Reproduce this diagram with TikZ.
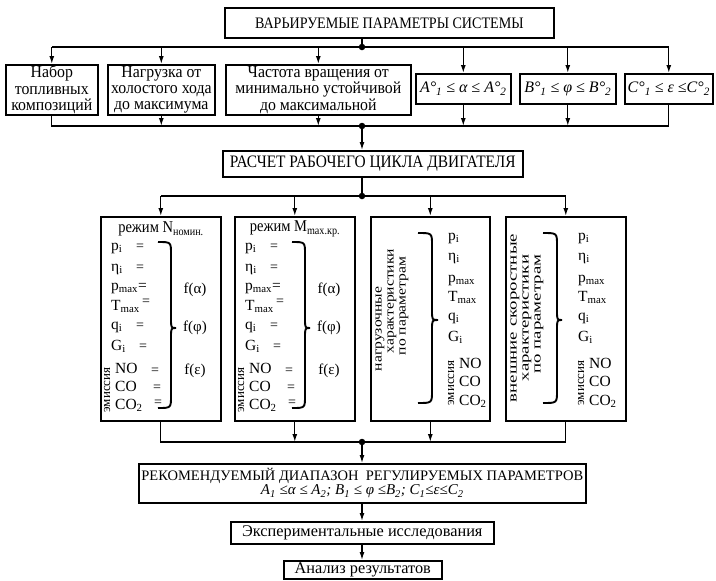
\documentclass[tikz,border=0pt]{standalone}
\usepackage{fontspec}
\setmainfont{Liberation Serif}
\newfontfamily\cnd{Liberation Serif}[FakeStretch=0.88]
\newfontfamily\cndb{Liberation Serif}[FakeStretch=0.93]
\newfontfamily\wdA{Liberation Serif}[FakeStretch=1.2]
\newfontfamily\wdB{Liberation Serif}[FakeStretch=1.45]
\usetikzlibrary{arrows.meta}

\newcommand\modecontent[3]{%
\begin{scope}[xshift=#2]
\node[inner sep=0pt,font=\cnd\fontsize{16.5}{17}\selectfont] (#1t) at (161,229) {#3};
\node[lbl] (#1a) at (111,247) {p\textsubscript{i}};
\node[eqs] (#1ae) at (140,247) {=};
\node[lbl] (#1b) at (111,268) {η\textsubscript{i}};
\node[eqs] (#1be) at (140,268) {=};
\node[lbl] (#1c) at (111,287) {p\textsubscript{max}=};
\node[lbl] (#1d) at (111,307) {T\textsubscript{max}};
\node[eqs] (#1de) at (146,302) {=};
\node[lbl] (#1e) at (111,326) {q\textsubscript{i}};
\node[eqs] (#1ee) at (140,326) {=};
\node[lbl] (#1f) at (111,347) {G\textsubscript{i}};
\node[eqs] (#1fe) at (143,347) {=};
\node[lbl] (#1g) at (115,370) {NO};
\node[eqs] (#1ge) at (155,371) {=};
\node[lbl] (#1h) at (115,388) {CO};
\node[eqs] (#1he) at (157,388) {=};
\node[lbl] (#1i) at (115,406) {CO\textsubscript{2}};
\node[eqs] (#1ie) at (158,403) {=};
\node[vtxt,font=\fontsize{13}{12}\selectfont] (#1em) at (107,390) {эмиссия};
\node[inner sep=0pt] (#1fa) at (195,290) {f(α)};
\node[inner sep=0pt] (#1fb) at (195,328) {f(φ)};
\node[inner sep=0pt] (#1fc) at (195,371) {f(ε)};
\draw[brc] (158,242) .. controls (171,242) .. (171,254) -- (171,318)
  .. controls (171,328) .. (176,328) .. controls (171,328) .. (171,338)
  -- (171,396) .. controls (171,408) .. (158,408);
\end{scope}}

\newcommand\charcontent[7]{%
\node[lbl] (#1a) at (#2,237) {p\textsubscript{i}};
\node[lbl] (#1b) at (#2,257) {η\textsubscript{i}};
\node[lbl] (#1c) at (#2,279) {p\textsubscript{max}};
\node[lbl] (#1d) at (#2,298) {T\textsubscript{max}};
\node[lbl] (#1e) at (#2,317) {q\textsubscript{i}};
\node[lbl] (#1f) at (#2,338) {G\textsubscript{i}};
\node[lbl] (#1g) at (#4,365) {NO};
\node[lbl] (#1h) at (#4,383) {CO};
\node[lbl] (#1i) at (#4,402) {CO\textsubscript{2}};
\node[vtxt,font=\fontsize{13}{12}\selectfont] (#1em) at (#3,383) {эмиссия};
\draw[brc] (#5,233) .. controls (#6,233) .. (#6,245) -- (#6,310)
  .. controls (#6,320) .. (#7,320) .. controls (#6,320) .. (#6,330)
  -- (#6,391) .. controls (#6,403) .. (#5,403);
}

\begin{document}
\begin{tikzpicture}[x=1pt,y=-1pt,
  font=\fontsize{15}{16}\selectfont,
  box/.style={draw,line width=1.6pt,inner sep=0pt,align=center,anchor=north west},
  conn/.style={line width=1.3pt},
  arr/.style={line width=1.3pt,-{Latex[length=8pt,width=5pt]}},
  dot/.style={circle,fill,inner sep=0pt,minimum size=6.5pt},
  lbl/.style={inner sep=0pt,anchor=west,text height=9.5pt,text depth=3pt,font=\fontsize{15.5}{16}\selectfont},
  eqs/.style={inner sep=0pt,font=\fontsize{14}{15}\selectfont},
  brc/.style={line width=1.9pt},
  vtxt/.style={inner sep=0pt,rotate=90,align=center}]

\useasboundingbox (0,0) rectangle (716,581);

% top
\node[box,minimum width=329,minimum height=30,font=\cnd\fontsize{16}{17}\selectfont] (top) at (224,7) {ВАРЬИРУЕМЫЕ ПАРАМЕТРЫ СИСТЕМЫ};
\begin{scope}[every node/.append style={font=\cndb\fontsize{17}{16.3}\selectfont}]
\node[box,minimum width=92,minimum height=50] (v1) at (5,64) {Набор\\топливных\\композиций};
\node[box,minimum width=107,minimum height=50] (v2) at (107,64) {Нагрузка от\\холостого хода\\до максимума};
\node[box,minimum width=185,minimum height=50] (v3) at (225,64) {Частота вращения от\\минимально устойчивой\\до максимальной};
\end{scope}
\begin{scope}[every node/.append style={font=\fontsize{16}{17}\selectfont\itshape}]
\node[box,minimum width=95,minimum height=30] (v4) at (415,73) {A°\textsubscript{1} ≤ α ≤ A°\textsubscript{2}};
\node[box,minimum width=96,minimum height=30] (v5) at (519,73) {B°\textsubscript{1} ≤ φ ≤ B°\textsubscript{2}};
\node[box,minimum width=88,minimum height=30] (v6) at (624,73) {C°\textsubscript{1} ≤ ε ≤C°\textsubscript{2}};
\end{scope}

\coordinate (d1) at (362,47);
\draw[conn] (top.south -| d1) -- (d1);
\draw[conn] (v1.north |- d1) -- (v6.north |- d1);
\foreach \n in {v1,v2,v3,v4,v5,v6} \draw[arr] (\n.north |- d1) -- (\n.north);
\node[dot] (p1) at (d1) {};

\node[box,minimum width=300,minimum height=26,font=\cnd\fontsize{17.5}{18}\selectfont] (calc) at (222,150) {РАСЧЕТ РАБОЧЕГО ЦИКЛА ДВИГАТЕЛЯ};
\coordinate (d2) at (362,126);
\draw[conn] (v1.south) -- (v1.south |- d2) -- (v6.south |- d2) -- (v6.south);
\foreach \n in {v2,v3,v4,v5} \draw[arr] (\n.south) -- (\n.south |- d2);
\draw[arr] (d2) -- (calc.north -| d2);
\node[dot] (p2) at (d2) {};

% mode boxes
\node[box,minimum width=120,minimum height=204] (m1) at (100,216) {};
\node[box,minimum width=120,minimum height=204] (m2) at (234,216) {};
\node[box,minimum width=119,minimum height=204] (m3) at (370,216) {};
\node[box,minimum width=120,minimum height=204] (m4) at (505,216) {};

\coordinate (d3) at (362,196);
\draw[conn] (calc.south -| d3) -- (d3);
\draw[conn] (m1.north |- d3) -- (m4.north |- d3);
\foreach \n in {m1,m2,m3,m4} \draw[arr] (\n.north |- d3) -- (\n.north);
\node[dot] (p3) at (d3) {};

\modecontent{ma}{0}{режим N\textsubscript{номин.}}
\modecontent{mb}{134}{режим M\textsubscript{max.кр.}}

\begin{scope}[every node/.append style={font=\wdA\fontsize{13}{12}\selectfont}]
\node[vtxt] (c1) at (380,329) {нагрузочные};
\node[vtxt] (c2) at (392,301) {характеристики};
\node[vtxt] (c3) at (404,306) {по параметрам};
\end{scope}
\charcontent{mc}{448}{451}{459}{418}{432}{438}

\begin{scope}[every node/.append style={font=\wdB\fontsize{13}{12}\selectfont}]
\node[vtxt] (e1) at (515,318) {внешние скоростные};
\node[vtxt] (e2) at (527,318) {характеристики};
\node[vtxt] (e3) at (539,314) {по параметрам};
\end{scope}
\charcontent{md}{578}{581}{589}{543}{557}{562}

% bottom
\coordinate (d4) at (362,442);
\draw[conn] (m1.south) -- (m1.south |- d4) -- (m4.south |- d4) -- (m4.south);
\foreach \n in {m2,m3} \draw[arr] (\n.south) -- (\n.south |- d4);
\node[dot] (p4) at (d4) {};

\node[box,minimum width=447,minimum height=39,font=\fontsize{14.5}{15}\selectfont] (rec) at (138,463)
  {РЕКОМЕНДУЕМЫЙ ДИАПАЗОН\ \ РЕГУЛИРУЕМЫХ ПАРАМЕТРОВ\\[-1pt]
   {\fontsize{15}{15}\selectfont\itshape A\textsubscript{1} ≤α ≤ A\textsubscript{2}; B\textsubscript{1} ≤ φ ≤B\textsubscript{2}; C\textsubscript{1}≤ε≤C\textsubscript{2}}};
\node[box,minimum width=263,minimum height=22,font=\fontsize{16.3}{17}\selectfont] (exp) at (230,521) {Экспериментальные исследования};
\node[box,minimum width=158,minimum height=18,font=\fontsize{16.3}{17}\selectfont] (an) at (283,560) {Анализ результатов};

\draw[arr] (d4) -- (rec.north -| d4);
\draw[arr] (rec.south -| d4) -- (exp.north -| d4);
\draw[arr] (exp.south -| d4) -- (an.north -| d4);
\end{tikzpicture}
\end{document}
